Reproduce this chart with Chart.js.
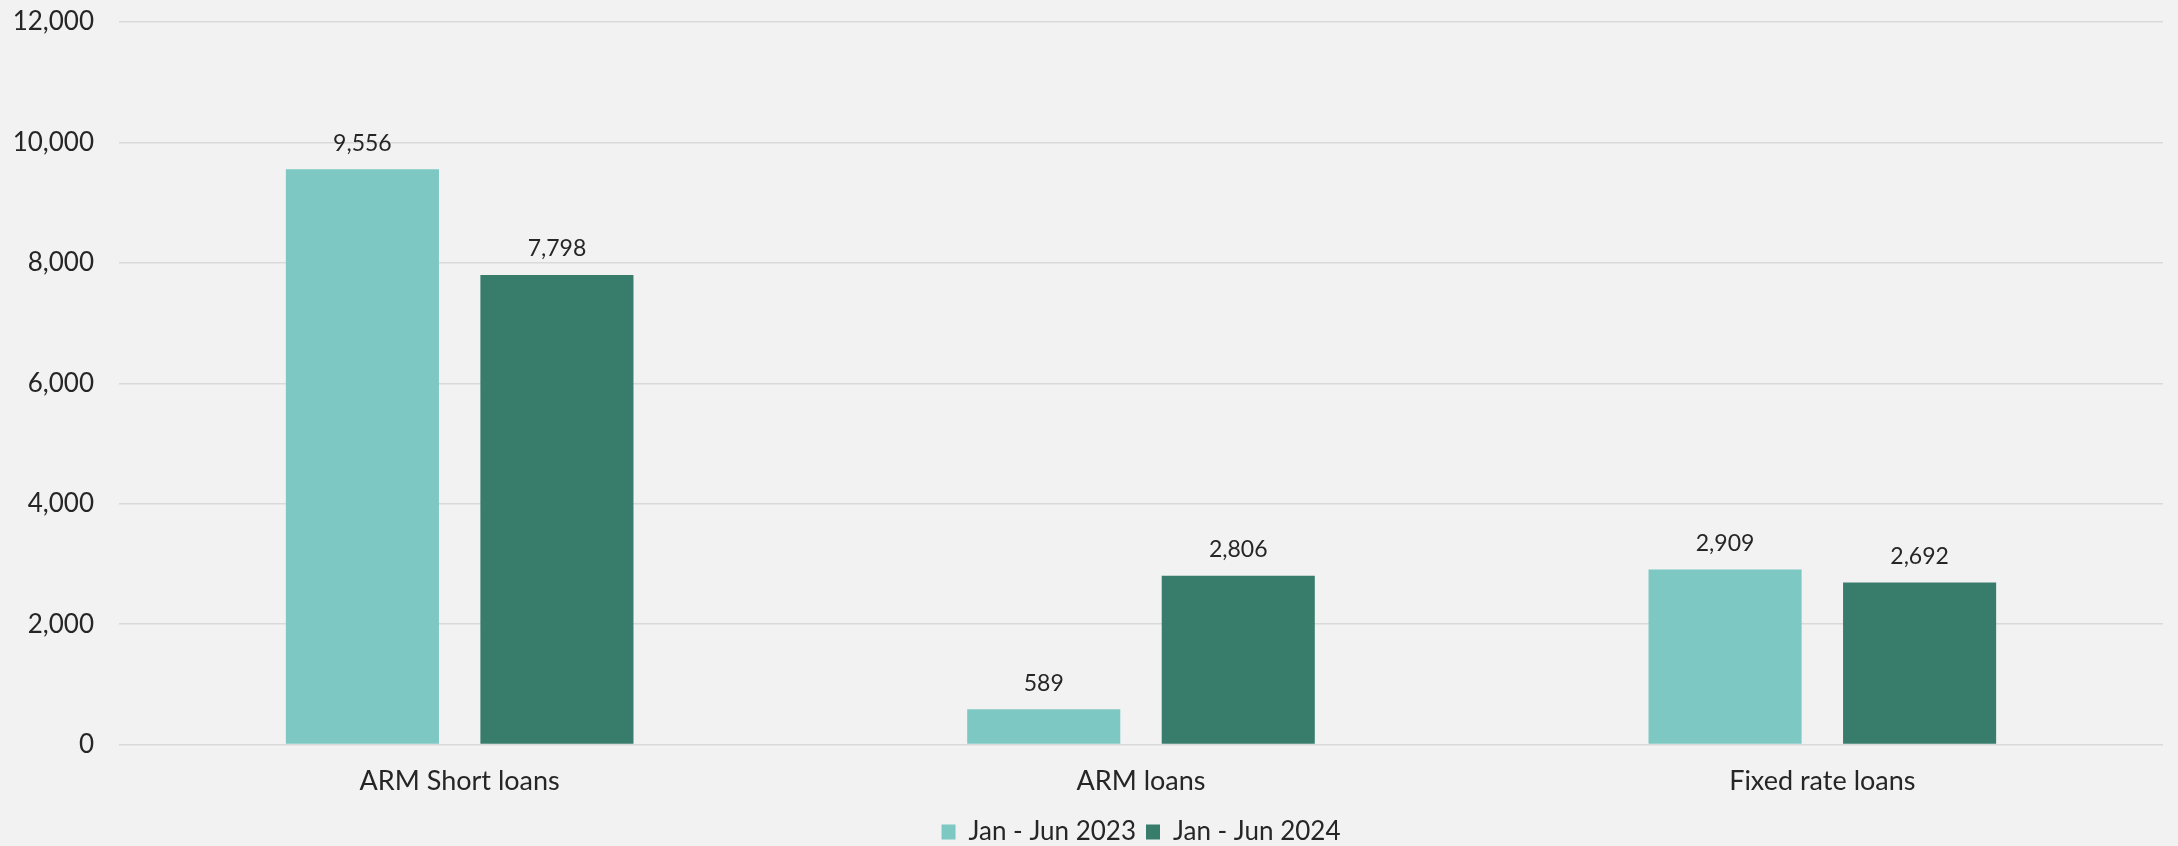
<!DOCTYPE html>
<html>
<head>
<meta charset="utf-8">
<script src="https://cdn.jsdelivr.net/npm/chart.js@4.4.1/dist/chart.umd.min.js"></script>
<style>
	html, body { margin: 0; padding: 0; background: #f2f2f2; }
	#wrap { width: 2178px; height: 846px; position: relative; }
</style>
</head>
<body>
<div id="wrap"><canvas id="loanChart"></canvas></div>
<script>
(() => {
	'use strict'

	// Chart data
	const categories = ['ARM Short loans', 'ARM loans', 'Fixed rate loans'];
	const seriesNames = ['Jan - Jun 2023', 'Jan - Jun 2024'];
	const values2023 = [9556, 589, 2909];
	const values2024 = [7798, 2806, 2692];
	const yTicks = [0, 2000, 4000, 6000, 8000, 10000, 12000];

	const lightColor = '#7dc8c2';
	const darkColor = '#387d6c';
	const textColor = '#262626';
	const fontFamily = "Lato, 'Open Sans', sans-serif";

	const fmt = (v) => Number(v).toLocaleString('en-US');

	// Draws the value above each bar
	const valueLabels = {
		id: 'valueLabels',
		afterDatasetsDraw(chart) {
			const ctx = chart.ctx;
			ctx.save();
			ctx.font = '23px ' + fontFamily;
			ctx.fillStyle = textColor;
			ctx.textAlign = 'center';
			ctx.textBaseline = 'middle';
			chart.data.datasets.forEach((ds, i) => {
				chart.getDatasetMeta(i).data.forEach((bar, j) => {
					ctx.fillText(fmt(ds.data[j]), bar.x, bar.y - 26);
				});
			});
			ctx.restore();
		}
	};

	const config = {
		type: 'bar',
		data: {
			labels: categories,
			datasets: [{
				label: seriesNames[0],
				data: values2023,
				backgroundColor: lightColor,
				categoryPercentage: 0.571,
				barPercentage: 0.787
			}, {
				label: seriesNames[1],
				data: values2024,
				backgroundColor: darkColor,
				categoryPercentage: 0.571,
				barPercentage: 0.787
			}]
		},
		options: {
			responsive: true,
			maintainAspectRatio: false,
			animation: false,
			layout: {
				padding: { top: 22, right: 15, bottom: -9, left: 0 }
			},
			plugins: {
				tooltip: { enabled: false },
				legend: {
					position: 'bottom',
					fullSize: false,
					labels: {
						color: textColor,
						font: { family: fontFamily, size: 26 },
						boxWidth: 14,
						boxHeight: 15,
						padding: 10
					}
				}
			},
			scales: {
				x: {
					grid: { display: false },
					border: { display: false },
					ticks: {
						color: textColor,
						font: { family: fontFamily, size: 27 },
						padding: 12
					}
				},
				y: {
					min: 0,
					max: 12000,
					afterBuildTicks(scale) {
						scale.ticks = yTicks.map(v => ({ value: v }));
					},
					afterFit(scale) {
						// fixed axis width, and no extra top/bottom room for the tick text
						scale.width = 119;
						scale.paddingTop = 0;
						scale.paddingBottom = 0;
					},
					grid: { color: '#d9d9d9', lineWidth: 1.5, drawTicks: false },
					border: { display: false },
					ticks: {
						color: textColor,
						font: { family: fontFamily, size: 26, lineHeight: 1 },
						padding: 25,
						callback: (v) => fmt(v)
					}
				}
			}
		},
		plugins: [valueLabels]
	};

	new Chart(document.getElementById('loanChart'), config);
})()
</script>
</body>
</html>
